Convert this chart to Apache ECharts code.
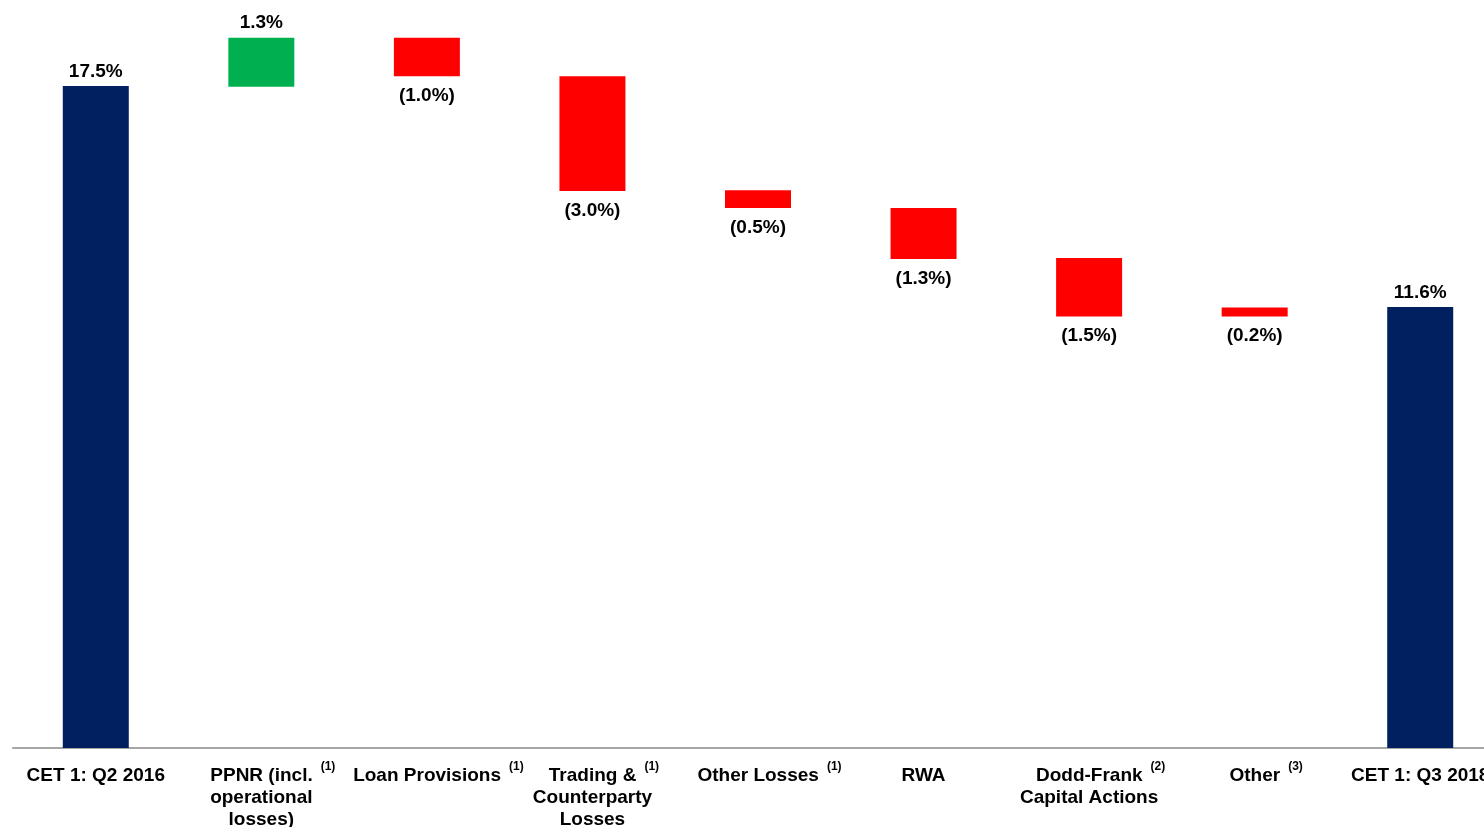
<!DOCTYPE html>
<html>
<head>
<meta charset="utf-8">
<script src="https://cdn.jsdelivr.net/npm/echarts@6/dist/echarts.min.js"></script>
<style>
  html, body { margin: 0; padding: 0; background: #ffffff; overflow: hidden; }
  #chart { width: 1503px; height: 827px; }
</style>
</head>
<body>
<div id="chart"></div>
<script>
// ---- Data ----
const categories = ['CET 1: Q2 2016', 'PPNR (incl.\noperational\nlosses)', 'Loan Provisions', 'Trading &\nCounterparty\nLosses', 'Other Losses', 'RWA', 'Dodd-Frank\nCapital Actions', 'Other', 'CET 1: Q3 2018'];
const footnotes = ['', '(1)', '(1)', '(1)', '(1)', '', '(2)', '(3)', ''];
const valueLabels = ['17.5%', '1.3%', '(1.0%)', '(3.0%)', '(0.5%)', '(1.3%)', '(1.5%)', '(0.2%)', '11.6%'];
const barKind = ['total', 'increase', 'decrease', 'decrease', 'decrease', 'decrease', 'decrease', 'decrease', 'total'];
const barBottom = [0, 17.47, 17.75, 14.72, 14.27, 12.92, 11.40, 11.40, 0];
const barTop = [17.49, 18.77, 18.77, 17.75, 14.74, 14.27, 12.95, 11.64, 11.65];

const kindColor = { total: '#002060', increase: '#00B050', decrease: '#FF0000' };

const chart = echarts.init(document.getElementById('chart'));

const deltaData = categories.map((c, i) => {
  const neg = barKind[i] === 'decrease';
  return {
    value: +(barTop[i] - barBottom[i]).toFixed(3),
    itemStyle: { color: kindColor[barKind[i]] },
    label: { position: neg ? 'bottom' : 'top', distance: neg ? 10 : 5 }
  };
});

function axisFormatter(value, index) {
  const lines = value.split('\n');
  const note = footnotes[index];
  return lines.map((ln, k) => {
    if (k === 0 && note) return '{pad|}{main|' + ln + '}{sup|' + note + '}';
    return '{main|' + ln + '}';
  }).join('\n');
}

const FONT = 'Liberation Sans, Arial, sans-serif';

chart.setOption({
  animation: false,
  backgroundColor: '#ffffff',
  grid: { left: 13, right: 0, top: 10, bottom: 79, containLabel: false, outerBoundsMode: 'none' },
  xAxis: {
    type: 'category',
    data: categories,
    axisLine: { show: true, lineStyle: { color: '#a6a6a6', width: 2 } },
    axisTick: { show: false },
    axisLabel: {
      interval: 0,
      margin: 17,
      color: '#000',
      fontFamily: FONT,
      fontWeight: 'bold',
      fontSize: 19,
      lineHeight: 22,
      formatter: axisFormatter,
      rich: {
        main: { fontFamily: FONT, fontWeight: 'bold', fontSize: 19, lineHeight: 22, color: '#000' },
        pad: { width: 23, lineHeight: 22 },
        sup: { fontFamily: FONT, fontWeight: 'bold', fontSize: 12, lineHeight: 22, color: '#000', padding: [0, 0, 14, 8], verticalAlign: 'bottom' }
      }
    }
  },
  yAxis: {
    type: 'value',
    min: 0,
    max: 19.5,
    show: false,
    splitLine: { show: false }
  },
  series: [
    {
      type: 'bar',
      stack: 'wf',
      barWidth: 66,
      data: barBottom,
      itemStyle: { color: 'rgba(0,0,0,0)' },
      emphasis: { disabled: true },
      silent: true
    },
    {
      type: 'bar',
      stack: 'wf',
      barWidth: 66,
      data: deltaData,
      label: {
        show: true,
        color: '#000',
        fontFamily: FONT,
        fontWeight: 'bold',
        fontSize: 19,
        formatter: (p) => valueLabels[p.dataIndex]
      }
    }
  ]
});
</script>
</body>
</html>
